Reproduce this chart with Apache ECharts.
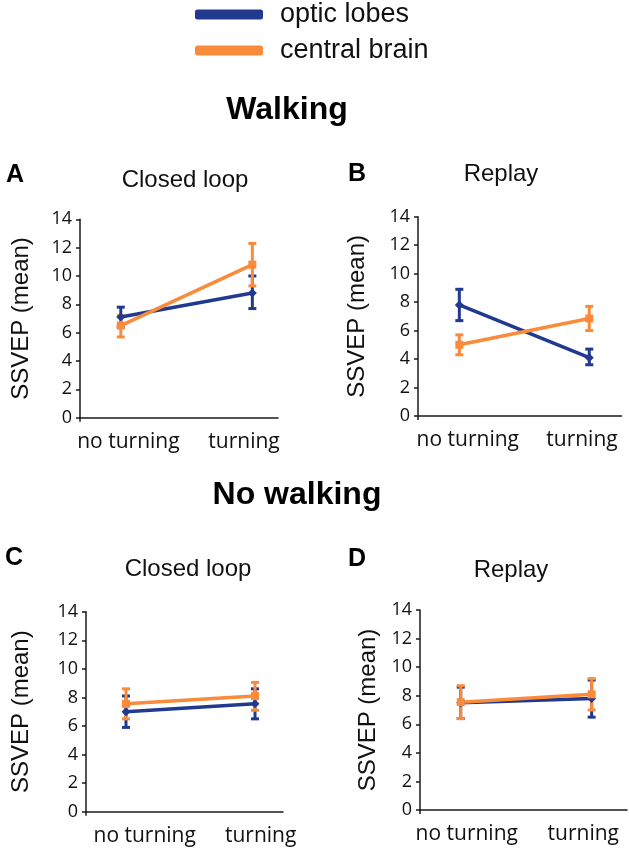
<!DOCTYPE html>
<html>
<head>
<meta charset="utf-8">
<script src="https://cdn.jsdelivr.net/npm/echarts@6/dist/echarts.min.js"></script>
<style>
  html, body { margin: 0; padding: 0; background: #fff; }
  #chart { width: 629px; height: 853px; }
</style>
</head>
<body>
<div id="chart"></div>
<script>
var categories = ['no turning', 'turning'];
var seriesNames = ['optic lobes', 'central brain'];

// A - walking, closed loop
var aOpticMean = [7.1, 8.8];
var aOpticLow = [6.4, 7.7];
var aOpticHigh = [7.8, 10.0];
var aCentralMean = [6.5, 10.8];
var aCentralLow = [5.7, 9.3];
var aCentralHigh = [7.2, 12.3];

// B - walking, replay
var bOpticMean = [7.8, 4.1];
var bOpticLow = [6.7, 3.6];
var bOpticHigh = [8.9, 4.7];
var bCentralMean = [5.0, 6.85];
var bCentralLow = [4.3, 6.0];
var bCentralHigh = [5.7, 7.7];

// C - no walking, closed loop
var cOpticMean = [7.0, 7.55];
var cOpticLow = [5.9, 6.5];
var cOpticHigh = [8.1, 8.6];
var cCentralMean = [7.55, 8.1];
var cCentralLow = [6.5, 7.1];
var cCentralHigh = [8.6, 9.05];

// D - no walking, replay
var dOpticMean = [7.5, 7.8];
var dOpticLow = [6.4, 6.5];
var dOpticHigh = [8.6, 9.1];
var dCentralMean = [7.55, 8.1];
var dCentralLow = [6.4, 7.0];
var dCentralHigh = [8.7, 9.2];

var BLUE = '#213a8f';
var ORANGE = '#f98b3a';
var ARIAL = '"Liberation Sans", Arial, sans-serif';
var TICKFONT = '"Open Sans", "Noto Sans", sans-serif';

var Panels = [
    {letter: 'A', title: 'Closed loop', grid: {left: 80, top: 219.3, width: 198, height: 198.4},
     xMin: -0.31, xMax: 1.195, labelAt: [0.058, 0.937], nameGap: 47,
     optic: [aOpticMean, aOpticLow, aOpticHigh], central: [aCentralMean, aCentralLow, aCentralHigh]},
    {letter: 'B', title: 'Replay', grid: {left: 418, top: 216.7, width: 203.5, height: 199.3},
     xMin: -0.318, xMax: 1.248, labelAt: [0.065, 0.944], nameGap: 49,
     optic: [bOpticMean, bOpticLow, bOpticHigh], central: [bCentralMean, bCentralLow, bCentralHigh]},
    {letter: 'C', title: 'Closed loop', grid: {left: 86, top: 611.7, width: 197, height: 200},
     xMin: -0.31, xMax: 1.217, labelAt: [0.145, 1.044], nameGap: 53,
     optic: [cOpticMean, cOpticLow, cOpticHigh], central: [cCentralMean, cCentralLow, cCentralHigh]},
    {letter: 'D', title: 'Replay', grid: {left: 420, top: 610, width: 207, height: 200},
     xMin: -0.311, xMax: 1.27, labelAt: [0.046, 0.936], nameGap: 40,
     optic: [dOpticMean, dOpticLow, dOpticHigh], central: [dCentralMean, dCentralLow, dCentralHigh]}
];

// [x, mean] pairs for the lines, [x, low, high] for the error bars
function linePoints(mean) {
    return mean.map(function (v, i) { return [i, v]; });
}
function errPoints(low, high) {
    return low.map(function (v, i) { return [i, v, high[i]]; });
}
function errRender(color) {
    return function (params, api) {
        var top = api.coord([api.value(0), api.value(2)]);
        var bot = api.coord([api.value(0), api.value(1)]);
        var w = 4;
        var st = {stroke: color, lineWidth: 3};
        return {
            type: 'group',
            children: [
                {type: 'line', shape: {x1: top[0], y1: top[1], x2: bot[0], y2: bot[1]}, style: st},
                {type: 'line', shape: {x1: top[0] - w, y1: top[1], x2: top[0] + w, y2: top[1]}, style: st},
                {type: 'line', shape: {x1: bot[0] - w, y1: bot[1], x2: bot[0] + w, y2: bot[1]}, style: st}
            ]
        };
    };
}

var grids = [], xAxes = [], yAxes = [], series = [], texts = [];
Panels.forEach(function (p, i) {
    grids.push(p.grid);
    xAxes.push({
        type: 'value', gridIndex: i, min: p.xMin, max: p.xMax,
        splitLine: {show: false},
        axisLine: {show: true, onZero: false, lineStyle: {color: '#1a1a1a', width: 1.5}},
        axisTick: {show: true, customValues: [p.xMin], length: 4, lineStyle: {color: '#1a1a1a', width: 1.5}},
        axisLabel: {
            customValues: p.labelAt, margin: 14,
            fontFamily: TICKFONT, fontSize: 21, color: '#111',
            formatter: function (v) { return v < 0.5 ? categories[0] : categories[1]; }
        }
    });
    yAxes.push({
        type: 'value', gridIndex: i, min: 0, max: 14, interval: 2,
        name: 'SSVEP (mean)', nameLocation: 'middle', nameRotate: 90, nameGap: p.nameGap,
        nameTextStyle: {fontFamily: ARIAL, fontSize: 24, color: '#111'},
        splitLine: {show: false},
        axisLine: {show: true, onZero: false, lineStyle: {color: '#1a1a1a', width: 1.5}},
        axisTick: {show: true, length: 4, lineStyle: {color: '#1a1a1a', width: 1.5}},
        axisLabel: {fontFamily: TICKFONT, fontSize: 18, color: '#111', margin: 8}
    });
    [[p.optic, BLUE, 'diamond', 9, seriesNames[0]], [p.central, ORANGE, 'rect', 8, seriesNames[1]]].forEach(function (g) {
        series.push({
            type: 'custom', name: g[4] + ' error', xAxisIndex: i, yAxisIndex: i,
            renderItem: errRender(g[1]), data: errPoints(g[0][1], g[0][2]), silent: true
        });
        series.push({
            type: 'line', name: g[4], xAxisIndex: i, yAxisIndex: i,
            data: linePoints(g[0][0]), symbol: g[2], symbolSize: g[3],
            itemStyle: {color: g[1]}, lineStyle: {color: g[1], width: 3.5},
            animation: false
        });
    });
});

var titlePos = [[15, 175, 185, 180], [357, 174, 501, 174], [14, 558, 188, 569], [357, 559, 511, 570]];
Panels.forEach(function (p, i) {
    var t = titlePos[i];
    texts.push({type: 'text', x: t[0], y: t[1], style: {text: p.letter, font: 'bold 25px ' + ARIAL, fill: '#000', textAlign: 'center', textVerticalAlign: 'middle'}});
    texts.push({type: 'text', x: t[2], y: t[3], style: {text: p.title, font: '24px ' + ARIAL, fill: '#111', textAlign: 'center', textVerticalAlign: 'middle'}});
});
texts.push({type: 'text', x: 287, y: 110, style: {text: 'Walking', font: 'bold 32px ' + ARIAL, fill: '#000', textAlign: 'center', textVerticalAlign: 'middle'}});
texts.push({type: 'text', x: 297, y: 495, style: {text: 'No walking', font: 'bold 32px ' + ARIAL, fill: '#000', textAlign: 'center', textVerticalAlign: 'middle'}});

var chart = echarts.init(document.getElementById('chart'));
chart.setOption({
    animation: false,
    backgroundColor: '#fff',
    legend: [
        {data: [seriesNames[0]], left: 195, top: 1, padding: 0, icon: 'roundRect', itemWidth: 68, itemHeight: 10,
         textStyle: {fontFamily: ARIAL, fontSize: 27, color: '#111', padding: [0, 0, 0, 12]}},
        {data: [seriesNames[1]], left: 195, top: 37, padding: 0, icon: 'roundRect', itemWidth: 68, itemHeight: 10,
         textStyle: {fontFamily: ARIAL, fontSize: 27, color: '#111', padding: [0, 0, 0, 12]}}
    ],
    grid: grids,
    xAxis: xAxes,
    yAxis: yAxes,
    series: series,
    graphic: texts
});
</script>
</body>
</html>
